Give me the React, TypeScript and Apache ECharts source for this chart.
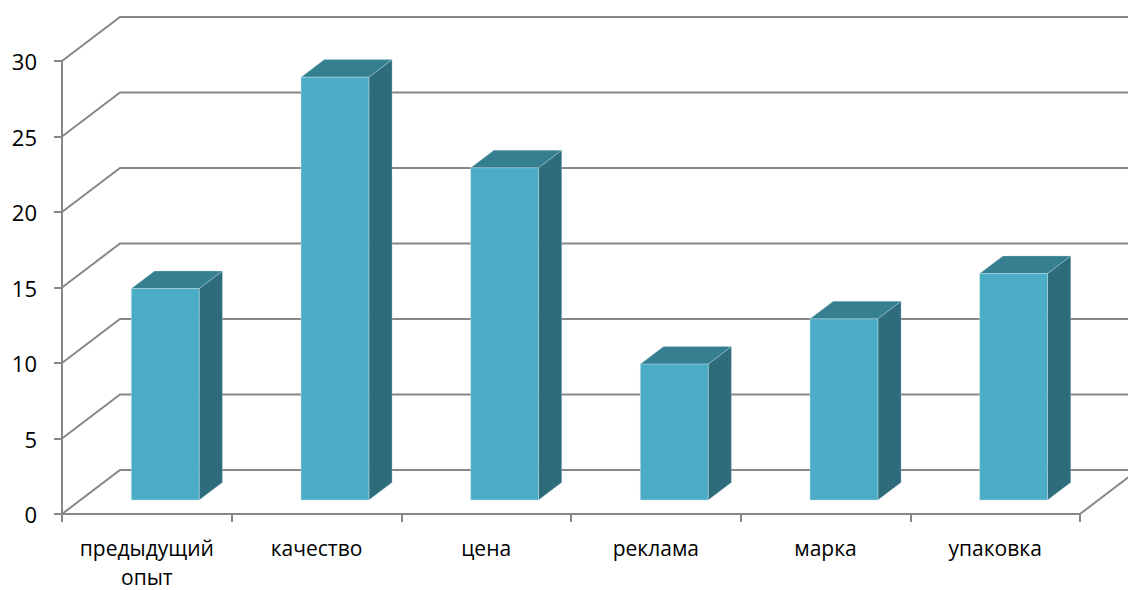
import React, { useEffect, useRef } from "react";
import * as echarts from "echarts";

// Survey factors and their scores
const categories = ["предыдущий\nопыт", "качество", "цена", "реклама", "марка", "упаковка"];
const values = [14, 28, 22, 9, 12, 15];
const yTicks = [0, 5, 10, 15, 20, 25, 30];

// Oblique depth of the 3D box (back wall offset, in px)
const DX = 58;
const DY = -44;
// Bar placement inside the depth and inside each category band
const D0 = 0.318;
const D1 = 0.718;
const BAR_FRAC = 0.4;

const GRID_COLOR = "#878787";
const FRONT = "#4BACC6";
const TOP = "#357F91";
const SIDE = "#2E6B7B";

export default function App() {
  const ref = useRef<HTMLDivElement>(null);

  useEffect(() => {
    if (!ref.current) return;
    const chart = echarts.init(ref.current, undefined, { renderer: "svg" });
    const n = categories.length;

    chart.setOption({
      animation: false,
      backgroundColor: "#ffffff",
      textStyle: { fontFamily: "Open Sans" },
      grid: {
        left: 62,
        top: 61,
        width: 1018,
        height: 453,
        containLabel: false,
        outerBoundsMode: "none",
      },
      xAxis: {
        type: "category",
        data: categories,
        boundaryGap: true,
        axisLine: { show: true, lineStyle: { color: GRID_COLOR, width: 2 } },
        axisTick: {
          show: true,
          interval: 0,
          length: 8,
          lineStyle: { color: GRID_COLOR, width: 2 },
        },
        axisLabel: {
          interval: 0,
          hideOverlap: false,
          color: "#000",
          fontSize: 21,
          lineHeight: 29,
          margin: 19,
          fontFamily: "Open Sans",
        },
        splitLine: { show: false },
      },
      yAxis: {
        type: "value",
        min: 0,
        max: 30,
        interval: 5,
        axisLine: { show: true, lineStyle: { color: GRID_COLOR, width: 2 } },
        axisTick: { show: true, length: 8, lineStyle: { color: GRID_COLOR, width: 2 } },
        axisLabel: { color: "#000", fontSize: 22, margin: 25, fontFamily: "Open Sans" },
        splitLine: { show: false },
      },
      series: [
        {
          // Perspective gridlines on the left and back walls, plus floor edge
          type: "custom",
          z: 1,
          silent: true,
          data: yTicks.map((v) => [0, v]),
          renderItem: (params: any, api: any) => {
            const v = api.value(1);
            const p = api.coord([0, v]);
            const band = api.size([1, 0])[0];
            const xl = p[0] - band / 2;
            const xr = xl + band * n;
            const y = p[1];
            const children: any[] = [
              {
                type: "polyline",
                shape: {
                  points: [
                    [xl, y],
                    [xl + DX, y + DY],
                    [xr + DX, y + DY],
                  ],
                },
                style: { stroke: GRID_COLOR, lineWidth: 2, fill: null },
              },
            ];
            if (v === 0) {
              children.push({
                type: "line",
                shape: { x1: xr, y1: y, x2: xr + DX, y2: y + DY },
                style: { stroke: GRID_COLOR, lineWidth: 2 },
              });
            }
            return { type: "group", children };
          },
        },
        {
          // 3D columns: front, top and side faces
          type: "custom",
          z: 3,
          data: values.map((v, i) => [i, v]),
          renderItem: (params: any, api: any) => {
            const i = api.value(0);
            const v = api.value(1);
            const base = api.coord([i, 0]);
            const top = api.coord([i, v]);
            const band = api.size([1, 0])[0];
            const w = band * BAR_FRAC;
            const left = base[0] - w / 2 + D0 * DX;
            const right = left + w;
            const yb = base[1] + D0 * DY;
            const yt = top[1] + D0 * DY;
            const ddx = (D1 - D0) * DX;
            const ddy = (D1 - D0) * DY;
            const edge = "rgba(200,225,235,0.55)";
            return {
              type: "group",
              children: [
                {
                  type: "polygon",
                  shape: {
                    points: [
                      [right, yt],
                      [right + ddx, yt + ddy],
                      [right + ddx, yb + ddy],
                      [right, yb],
                    ],
                  },
                  style: { fill: SIDE, stroke: edge, lineWidth: 0.6 },
                },
                {
                  type: "polygon",
                  shape: {
                    points: [
                      [left, yt],
                      [right, yt],
                      [right + ddx, yt + ddy],
                      [left + ddx, yt + ddy],
                    ],
                  },
                  style: { fill: TOP, stroke: edge, lineWidth: 0.6 },
                },
                {
                  type: "rect",
                  shape: { x: left, y: yt, width: w, height: yb - yt },
                  style: { fill: FRONT, stroke: edge, lineWidth: 0.8 },
                },
              ],
            };
          },
        },
      ],
    });

    return () => chart.dispose();
  }, []);

  return (
    <div
      ref={ref}
      style={{ position: "fixed", left: 0, top: 0, width: 1128, height: 590, background: "#fff" }}
    />
  );
}
